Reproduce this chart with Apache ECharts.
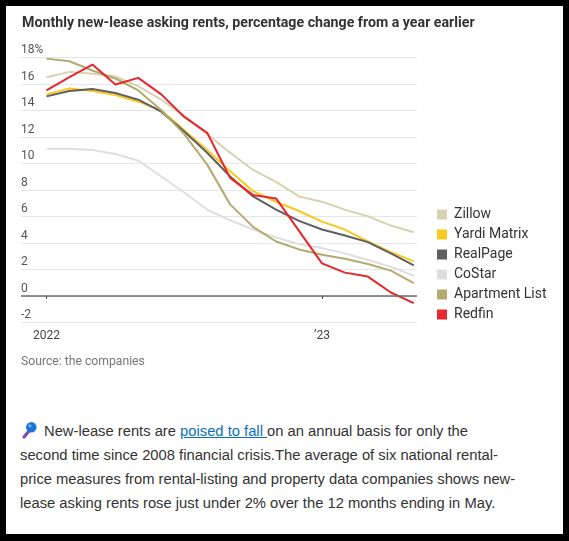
<!DOCTYPE html>
<html>
<head>
<meta charset="utf-8">
<script src="https://cdn.jsdelivr.net/npm/echarts@6/dist/echarts.min.js"></script>
<style>
    html, body { margin: 0; padding: 0; background: #000; }
    #frame { position: absolute; left: 6px; top: 6px; width: 557px; height: 528px; background: #fff; }
    #chart { position: absolute; left: 0; top: 0; width: 569px; height: 390px; }
    #note {
        position: absolute; left: 20px; top: 419px; width: 540px;
        font-family: "Liberation Sans", Arial, sans-serif; font-size: 14.75px;
        line-height: 24px; color: #333; white-space: nowrap;
    }
    #note a { color: #0b6fbf; text-decoration: underline; }
    #note svg { vertical-align: -3px; margin-right: 7px; margin-left: 1px; }
</style>
</head>
<body>
<div id="frame"></div>
<div id="chart"></div>
<div id="note"><svg width="16" height="18" viewBox="0 0 16 18"><line x1="3" y1="16" x2="8" y2="10" stroke="#7b4bb0" stroke-width="3.2" stroke-linecap="round"/><circle cx="10.3" cy="6.3" r="5.2" fill="#1a73d9"/><circle cx="8.9" cy="4.8" r="1.6" fill="#7fb8f2"/></svg>New-lease rents are <a href="#">poised to fall </a>on an annual basis for only the<br>second time since 2008 financial crisis.The average of six national rental-<br>price measures from rental-listing and property data companies shows new-<br>lease asking rents rose just under 2% over the 12 months ending in May.</div>
<script>
// Jan 2022 .. May 2023, monthly
var months = ['Jan 22', 'Feb 22', 'Mar 22', 'Apr 22', 'May 22', 'Jun 22', 'Jul 22', 'Aug 22', 'Sep 22',
    'Oct 22', 'Nov 22', 'Dec 22', 'Jan 23', 'Feb 23', 'Mar 23', 'Apr 23', 'May 23'];
var zillow = [16.5, 16.9, 16.75, 16.55, 15.8, 14.8, 13.6, 12.2, 10.8, 9.5, 8.6, 7.5, 7.1, 6.5, 6.0, 5.3, 4.8];
var yardi = [15.2, 15.65, 15.45, 15.15, 14.65, 14.0, 12.5, 11.0, 9.4, 7.9, 7.1, 6.4, 5.6, 5.0, 4.1, 3.3, 2.6];
var realPage = [15.05, 15.45, 15.6, 15.3, 14.8, 13.9, 12.4, 10.8, 9.0, 7.5, 6.5, 5.65, 5.0, 4.55, 4.05, 3.2, 2.3];
var coStar = [11.1, 11.1, 11.0, 10.7, 10.2, 9.0, 7.8, 6.5, 5.7, 5.0, 4.4, 3.9, 3.6, 3.2, 2.7, 2.2, 1.5];
var apartmentList = [17.9, 17.7, 17.0, 16.4, 15.5, 14.0, 12.2, 9.9, 6.9, 5.2, 4.1, 3.5, 3.1, 2.8, 2.4, 1.9, 0.95];
var redfin = [15.5, 16.5, 17.45, 15.95, 16.45, 15.2, 13.5, 12.3, 8.9, 7.6, 7.35, 4.9, 2.45, 1.75, 1.45, 0.25, -0.55];
var yTicks = [-2, 0, 2, 4, 6, 8, 10, 12, 14, 16, 18];
var xTickIdx = [0, 12];
var xTickLabels = ['2022', '\u201923'];

function makeSeries(name, values, color, width) {
    return {
        name: name,
        type: 'line',
        symbol: 'none',
        lineStyle: { color: color, width: width },
        itemStyle: { color: color },
        data: values.map(function (v, i) { return [i, v]; })
    };
}

var series = [
    makeSeries('Zillow', zillow, '#d6d3b0', 2),
    makeSeries('Yardi Matrix', yardi, '#f8c91f', 2),
    makeSeries('RealPage', realPage, '#5f5f5f', 2),
    makeSeries('CoStar', coStar, '#dedede', 2),
    makeSeries('Apartment List', apartmentList, '#b3ab70', 2),
    makeSeries('Redfin', redfin, '#e8262e', 2)
];
// zero line
series[0].markLine = {
    silent: true,
    symbol: 'none',
    label: { show: false },
    lineStyle: { color: '#6a6a6a', width: 1.5, type: 'solid' },
    data: [{ yAxis: 0 }]
};

var myChart = echarts.init(document.getElementById('chart'));
myChart.setOption({
    animation: false,
    textStyle: { fontFamily: 'Roboto' },
    title: {
        text: 'Monthly new-lease asking rents, percentage change from a year earlier',
        left: 17,
        top: 11,
        textStyle: { fontSize: 14.2, fontWeight: 'bold', color: '#333', fontFamily: 'Roboto' }
    },
    legend: {
        orient: 'vertical',
        left: 432,
        top: 202.5,
        icon: 'rect',
        itemWidth: 10,
        itemHeight: 10,
        itemGap: 6,
        selectedMode: false,
        textStyle: { fontSize: 14, color: '#333', lineHeight: 14, padding: [0, 0, 0, 2] },
        data: series.map(function (s) { return s.name; })
    },
    grid: { left: 21, right: 152, top: 57.3, bottom: 67.7, containLabel: false },
    xAxis: {
        type: 'value',
        min: -1.11,
        max: 16.14,
        splitLine: { show: false },
        axisLine: { show: false },
        axisTick: { show: true, length: 3, customValues: xTickIdx, lineStyle: { color: '#333' } },
        axisLabel: {
            customValues: xTickIdx,
            margin: 8,
            fontSize: 12,
            color: '#444',
            formatter: function (v) { return xTickLabels[xTickIdx.indexOf(v)]; }
        }
    },
    yAxis: {
        type: 'value',
        min: -2,
        max: 18,
        interval: 2,
        axisLine: { show: false },
        axisTick: { show: false },
        splitLine: { lineStyle: { color: '#e6e6e6', width: 1 } },
        axisLabel: {
            inside: true,
            margin: 0,
            verticalAlign: 'bottom',
            padding: [0, 0, 1, 0],
            fontSize: 12,
            color: '#555',
            formatter: function (v) { return v === 18 ? '18%' : String(v); }
        }
    },
    graphic: [{
        type: 'text',
        left: 21,
        top: 356,
        style: { text: 'Source: the companies', fontSize: 12.2, fill: '#777', fontFamily: 'Roboto' }
    }],
    series: series
});
</script>
</body>
</html>
